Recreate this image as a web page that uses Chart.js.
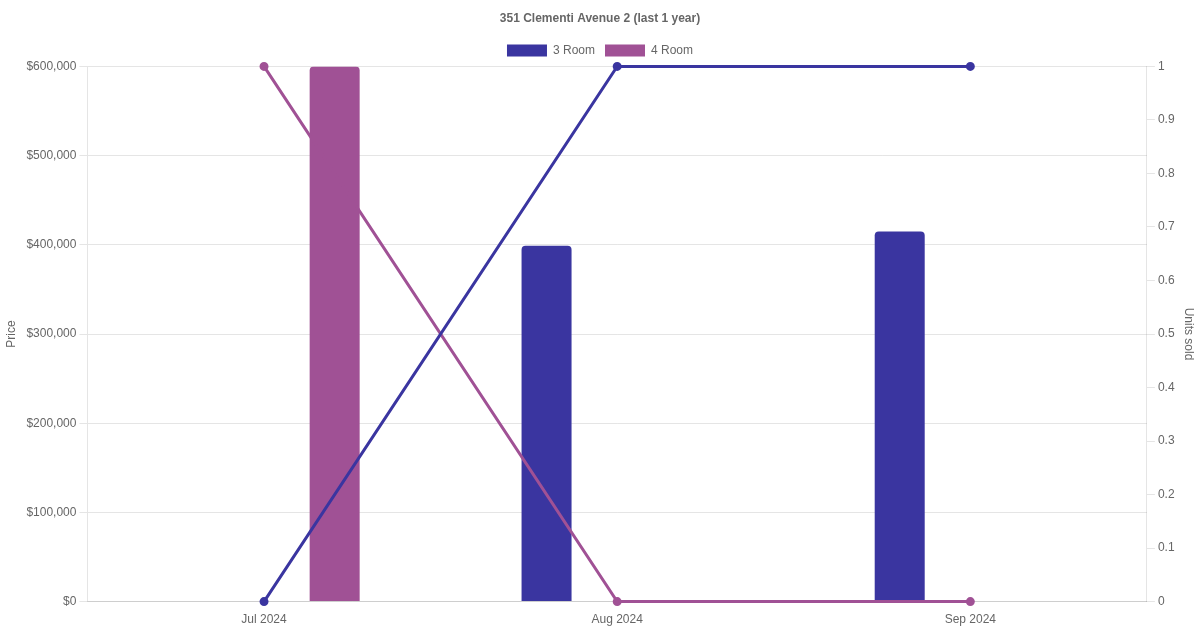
<!DOCTYPE html>
<html>
<head>
<meta charset="utf-8">
<script src="https://cdn.jsdelivr.net/npm/chart.js@4"></script>
<style>
  body { margin: 0; background: #fff; }
  #wrap { width: 1200px; height: 630px; }
</style>
</head>
<body>
<div id="wrap"><canvas id="chart" width="1200" height="630"></canvas></div>
<script>
// datos del gráfico
const meses = ['Jul 2024', 'Aug 2024', 'Sep 2024'];
const precio3Room = [null, 399000, 415000];
const precio4Room = [600000, null, null];
const unidades3Room = [0, 1, 1];
const unidades4Room = [1, 0, 0];

const color3 = 'rgb(58, 53, 160)';
const color4 = 'rgb(160, 81, 149)';

Chart.defaults.font.family = '"Liberation Sans", Arial, Helvetica, sans-serif';
Chart.defaults.font.size = 12;
Chart.defaults.color = '#666';

const ctx = document.getElementById('chart').getContext('2d');
new Chart(ctx, {
    data: {
        labels: meses,
        datasets: [
            {
                type: 'bar',
                label: '3 Room',
                data: precio3Room,
                backgroundColor: color3,
                borderRadius: 4,
                maxBarThickness: 50,
                yAxisID: 'y',
                order: 2
            },
            {
                type: 'bar',
                label: '4 Room',
                data: precio4Room,
                backgroundColor: color4,
                borderRadius: 4,
                maxBarThickness: 50,
                yAxisID: 'y',
                order: 2
            },
            {
                type: 'line',
                label: '3 Room units',
                data: unidades3Room,
                borderColor: color3,
                backgroundColor: color3,
                borderWidth: 3,
                pointRadius: 3,
                tension: 0,
                fill: false,
                clip: false,
                yAxisID: 'y1',
                order: 1
            },
            {
                type: 'line',
                label: '4 Room units',
                data: unidades4Room,
                borderColor: color4,
                backgroundColor: color4,
                borderWidth: 3,
                pointRadius: 3,
                tension: 0,
                fill: false,
                clip: false,
                yAxisID: 'y1',
                order: 1
            }
        ]
    },
    options: {
        responsive: false,
        animation: false,
        plugins: {
            title: {
                display: true,
                text: '351 Clementi Avenue 2 (last 1 year)',
                font: { size: 12, weight: 'bold' },
                padding: { top: 11, bottom: 9 }
            },
            legend: {
                labels: {
                    filter: item => !item.text.includes('units')
                }
            }
        },
        scales: {
            x: {
                grid: { display: false },
                ticks: { padding: 3 }
            },
            y: {
                position: 'left',
                min: 0,
                max: 600000,
                ticks: {
                    stepSize: 100000,
                    padding: 3,
                    callback: v => '$' + v.toLocaleString('en-US')
                },
                title: { display: true, text: 'Price', padding: { top: 4, bottom: 5 } }
            },
            y1: {
                position: 'right',
                min: 0,
                max: 1,
                ticks: {
                    stepSize: 0.1,
                    callback: v => String(Number(v.toFixed(1)))
                },
                grid: { drawOnChartArea: false },
                title: { display: true, text: 'Units sold' }
            }
        }
    }
});
</script>
</body>
</html>
